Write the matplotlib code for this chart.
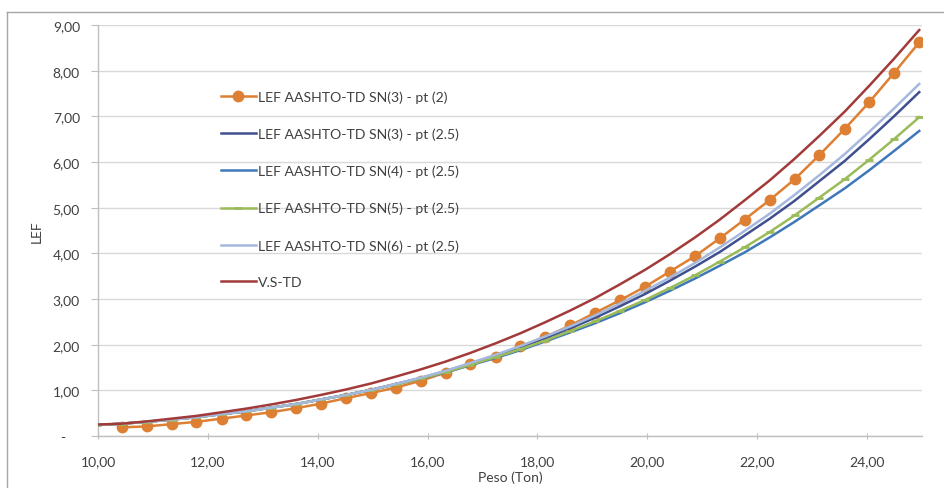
import matplotlib
matplotlib.use("Agg")
import matplotlib.pyplot as plt
from matplotlib.lines import Line2D

plt.rcParams['font.family'] = ['Lato', 'DejaVu Sans']

# Axle load in tons
peso = [9.98, 10.43, 10.89, 11.34, 11.79, 12.25, 12.70, 13.15, 13.61, 14.06,
        14.52, 14.97, 15.42, 15.88, 16.33, 16.78, 17.24, 17.69, 18.14, 18.60,
        19.05, 19.50, 19.96, 20.41, 20.87, 21.32, 21.77, 22.23, 22.68, 23.13,
        23.59, 24.04, 24.49, 24.95]

# LEF AASHTO-TD SN(3) - pt (2)  (starts at second load)
lef_sn3_pt2 = [0.19, 0.21, 0.26, 0.31, 0.38, 0.45, 0.52, 0.61, 0.71, 0.83,
               0.94, 1.06, 1.21, 1.39, 1.57, 1.74, 1.96, 2.17, 2.42, 2.70,
               2.97, 3.27, 3.60, 3.94, 4.33, 4.74, 5.17, 5.62, 6.15, 6.72,
               7.31, 7.95, 8.62]

lef_sn3_pt25 = [0.24, 0.27, 0.31, 0.36, 0.41, 0.48, 0.54, 0.62, 0.70, 0.80,
                0.90, 1.01, 1.14, 1.27, 1.42, 1.58, 1.76, 1.94, 2.14, 2.36,
                2.59, 2.84, 3.11, 3.40, 3.71, 4.03, 4.39, 4.76, 5.15, 5.58,
                6.02, 6.50, 7.00, 7.53]

lef_sn4_pt25 = [0.24, 0.27, 0.31, 0.36, 0.41, 0.48, 0.54, 0.62, 0.70, 0.80,
                0.90, 1.01, 1.13, 1.26, 1.39, 1.55, 1.71, 1.88, 2.07, 2.27,
                2.47, 2.69, 2.93, 3.18, 3.45, 3.73, 4.02, 4.35, 4.69, 5.05,
                5.42, 5.82, 6.24, 6.68]

lef_sn5_pt25 = [0.24, 0.27, 0.31, 0.36, 0.41, 0.48, 0.54, 0.62, 0.70, 0.80,
                0.90, 1.01, 1.13, 1.26, 1.40, 1.56, 1.73, 1.90, 2.09, 2.30,
                2.51, 2.74, 2.98, 3.24, 3.52, 3.82, 4.13, 4.47, 4.83, 5.22,
                5.62, 6.05, 6.50, 6.98]

lef_sn6_pt25 = [0.24, 0.27, 0.31, 0.36, 0.41, 0.48, 0.54, 0.62, 0.70, 0.80,
                0.90, 1.01, 1.14, 1.28, 1.43, 1.60, 1.78, 1.97, 2.18, 2.40,
                2.64, 2.90, 3.18, 3.47, 3.79, 4.13, 4.49, 4.87, 5.28, 5.71,
                6.17, 6.66, 7.17, 7.71]

lef_vs_td = [0.25, 0.27, 0.32, 0.38, 0.44, 0.52, 0.60, 0.69, 0.79, 0.90,
             1.02, 1.15, 1.30, 1.46, 1.63, 1.82, 2.03, 2.25, 2.49, 2.75,
             3.02, 3.32, 3.64, 3.98, 4.35, 4.74, 5.16, 5.60, 6.07, 6.57,
             7.10, 7.67, 8.26, 8.89]

labels = ["LEF AASHTO-TD SN(3) - pt (2)",
          "LEF AASHTO-TD SN(3) - pt (2.5)",
          "LEF AASHTO-TD SN(4) - pt (2.5)",
          "LEF AASHTO-TD SN(5) - pt (2.5)",
          "LEF AASHTO-TD SN(6) - pt (2.5)",
          "V.S-TD"]

xticks = [10, 12, 14, 16, 18, 20, 22, 24]
xticklabels = ["10,00", "12,00", "14,00", "16,00", "18,00", "20,00", "22,00", "24,00"]
yticks = [0, 1, 2, 3, 4, 5, 6, 7, 8, 9]
yticklabels = ["-    ", "1,00", "2,00", "3,00", "4,00", "5,00", "6,00", "7,00", "8,00", "9,00"]

W, H = 944, 489
fig = plt.figure(figsize=(W / 100, H / 100), dpi=100)
ax = fig.add_axes([98 / W, 1 - 437 / H, (922 - 98) / W, (437 - 26) / H])

ax.plot(peso[1:], lef_sn3_pt2, color='#DD8033', lw=1.8, marker='o', ms=7.5,
        mfc='#DD8033', mec='#DD8033', label=labels[0], zorder=3)
ax.plot(peso, lef_sn3_pt25, color='#3F5090', lw=1.8, label=labels[1], zorder=4)
ax.plot(peso, lef_sn4_pt25, color='#3F78B8', lw=1.8, label=labels[2], zorder=5)
ax.plot(peso, lef_sn5_pt25, color='#9BBB59', lw=1.8, marker='_', ms=6, mew=2,
        label=labels[3], zorder=6)
ax.plot(peso, lef_sn6_pt25, color='#A5B8DD', lw=1.8, label=labels[4], zorder=7)
ax.plot(peso, lef_vs_td, color='#A33A3A', lw=1.8, label=labels[5], zorder=8)

ax.set_xlim(10, 25)
ax.set_ylim(0, 9)
ax.set_xticks(xticks)
ax.set_xticklabels(xticklabels)
ax.set_yticks(yticks)
ax.set_yticklabels(yticklabels)

ax.grid(axis='y', color='#D9D9D9', lw=1.0, zorder=0)
ax.grid(axis='x', visible=False)
ax.set_axisbelow(True)
for s in ['top', 'right']:
    ax.spines[s].set_visible(False)
for s in ['left', 'bottom']:
    ax.spines[s].set_color('#BFBFBF')
    ax.spines[s].set_linewidth(1.0)

ax.tick_params(axis='x', direction='inout', length=5, color='#BFBFBF',
               labelsize=10, labelcolor='#404040', pad=11)
ax.tick_params(axis='y', direction='out', length=5, color='#BFBFBF',
               labelsize=10, labelcolor='#404040', pad=8)

ax.set_xlabel("Peso (Ton)", fontsize=10, color='#404040', labelpad=3)
ax.set_ylabel("LEF", fontsize=10, color='#404040', labelpad=7)

leg = ax.legend(loc='upper left', bbox_to_anchor=(0.142, 0.855), frameon=False,
                fontsize=10.1, labelspacing=1.76, handlelength=2.5,
                handletextpad=0.15, borderaxespad=0)
for t in leg.get_texts():
    t.set_color('#404040')

# outer chart border
fig.add_artist(Line2D([7 / W, 1.0], [1 - 13 / H, 1 - 13 / H], color='#A6A6A6', lw=1.0))
fig.add_artist(Line2D([7 / W, 7 / W], [1 - 13 / H, 0.0], color='#A6A6A6', lw=1.0))

fig.savefig("out.png", dpi=100, facecolor='white')
